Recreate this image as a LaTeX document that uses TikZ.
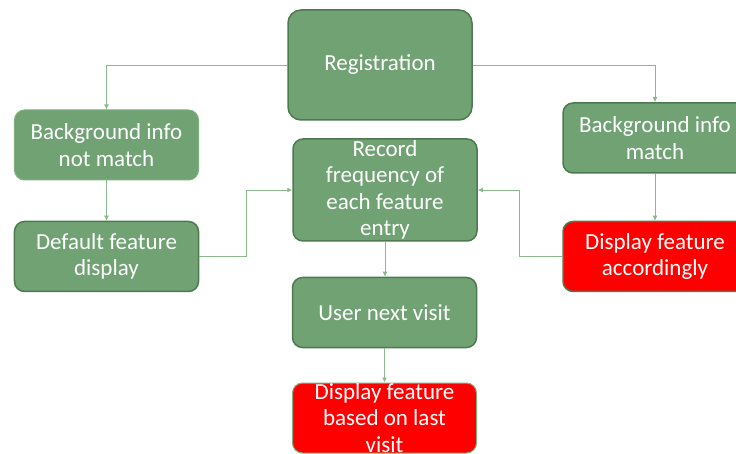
\documentclass[tikz,border=0pt]{standalone}
\usepackage{fontspec}
\setmainfont{Carlito}
\usetikzlibrary{arrows.meta}
\definecolor{boxgreen}{RGB}{112,162,116}
\definecolor{edgegreen}{RGB}{78,122,82}
\definecolor{palegreen}{RGB}{126,176,128}
\definecolor{linegreen}{RGB}{140,186,142}
\definecolor{alertred}{RGB}{255,0,0}
\tikzset{
  box/.style={rectangle, rounded corners=10bp, fill=boxgreen, draw=edgegreen,
    line width=1.5bp, minimum width=184bp, minimum height=70bp, inner sep=0pt,
    text=white, align=center,
    font=\fontsize{23bp}{26.5bp}\selectfont},
  softbox/.style={box, draw=palegreen, line width=1bp},
  redbox/.style={box, fill=alertred},
  link/.style={draw=linegreen, line width=0.9bp, -{Latex[length=5bp,width=5bp]}},
}
\begin{document}
\begin{tikzpicture}[x=1bp,y=-1bp]
\useasboundingbox (0,0) rectangle (736,454);
\clip (0,0) rectangle (736,454);
\fill[white] (0,0) rectangle (736,454);

\node[box, minimum height=110bp, rounded corners=13bp] (reg) at (380,65) {Registration};
\node[softbox] (bgn) at (106.5,145) {Background info\\not match};
\node[box] (def) at (106.5,256.5) {Default feature\\display};
\node[box] (bgm) at (655,138) {Background info\\match};
\node[redbox] (dacc) at (655,256.5) {Display feature\\accordingly};
\node[box, minimum height=102bp] (rec) at (385,190) {Record\\frequency of\\each feature\\entry};
\node[box] (unv) at (384.5,312.5) {User next visit};
\node[redbox, draw=palegreen, line width=1bp] (dlast) at (384.5,418) {Display feature\\based on last\\visit};

\draw[link] (reg.west) -| (bgn.north);
\draw[link] (reg.east) -| (bgm.north);
\draw[link] (bgn) -- (def);
\draw[link] (bgm) -- (dacc);
\draw[link] (def.east) -- ++(47,0) |- (rec.west);
\draw[link] (dacc.west) -- ++(-43,0) |- (rec.east);
\draw[link] (rec.south) -- (rec.south |- unv.north);
\draw[link] (unv) -- (dlast);
\end{tikzpicture}
\end{document}
